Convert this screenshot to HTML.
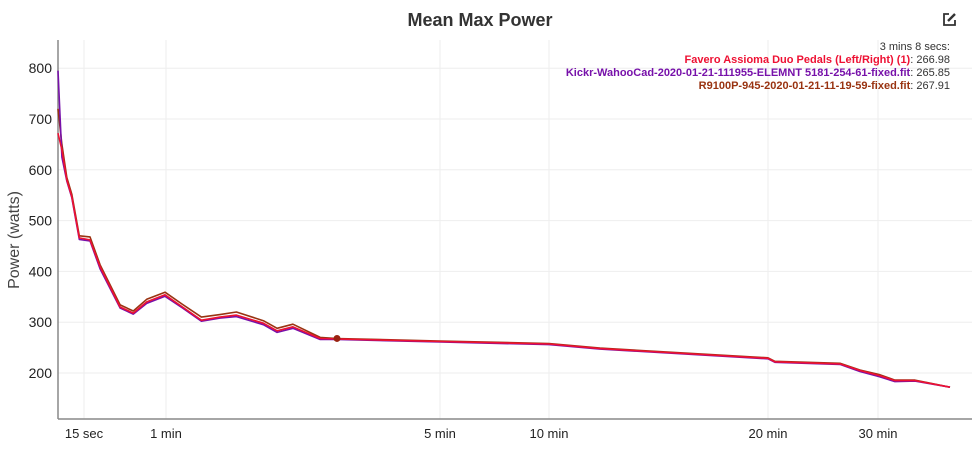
<!DOCTYPE html>
<html><head><meta charset="utf-8"><style>
body{margin:0;background:#fff;font-family:"Liberation Sans",sans-serif}
svg{display:block}
</style></head><body>
<svg width="972" height="474">
<text x="480" y="26" text-anchor="middle" font-size="18" font-weight="bold" fill="#333">Mean Max Power</text>
<g transform="translate(942,13)" fill="none" stroke="#333" stroke-width="1.8">
<path d="M7 1H2V12H13V7"/><path d="M6 8L13 1" stroke-width="2.4"/>
</g>
<g id="grid"></g>
<g id="axes"></g>
<g id="series"></g>
<text transform="translate(19,240) rotate(-90)" text-anchor="middle" font-size="16" fill="#444">Power (watts)</text>
<g font-size="11" text-anchor="end">
<text x="950" y="50" fill="#333">3 mins 8 secs:</text>
<text x="950" y="63"><tspan fill="#ee1133" font-weight="bold">Favero Assioma Duo Pedals (Left/Right) (1)</tspan><tspan fill="#333">: 266.98</tspan></text>
<text x="950" y="76"><tspan fill="#7711aa" font-weight="bold">Kickr-WahooCad-2020-01-21-111955-ELEMNT 5181-254-61-fixed.fit</tspan><tspan fill="#333">: 265.85</tspan></text>
<text x="950" y="89"><tspan fill="#993311" font-weight="bold">R9100P-945-2020-01-21-11-19-59-fixed.fit</tspan><tspan fill="#333">: 267.91</tspan></text>
</g>
</svg>
<script>
const durations=[1,1.5,2.5,4.2,9.2,16.6,19.7,27.6,34.5,43.3,59,67,76,86,96,115,126,140,168,188,300,600,705,1200,1231,1565,1684,1808,1926,2087,2400];
const favero=[672,639,580,547,466,462,409,330,318,340,354,330,304,310,314,298,283,291,268,267,262,257,248,229,222,218,205,195,185,185,172];
const kickr=[795,625,578,545,463,460,405,328,316,337,351,328,302,308,311,295,280,288,266,266,261,256,247,228,221,217,203,193,183,184,172];
const r9100=[720,650,585,552,470,468,413,334,322,345,359,335,310,315,320,303,288,296,270,268,263,258,249,230,223,219,206,197,186,186,172];
const yTicks=[200,300,400,500,600,700,800];
const xTickSecs=[15,60,300,600,1200,1800];
const xTickLabels=["15 sec","1 min","5 min","10 min","20 min","30 min"];
const markerSec=188;
const anchS=[1,15,60,188,300,600,1200,1800,2400], anchX=[58,84,166,337,440,549,768,878,950];
function xs(s){for(let i=0;i<anchS.length-1;i++){if(s<=anchS[i+1]||i==anchS.length-2){const t=Math.log(s/anchS[i])/Math.log(anchS[i+1]/anchS[i]);return anchX[i]+t*(anchX[i+1]-anchX[i]);}}}
function ys(v){return 373-(v-200)*0.508;}
const NS="http://www.w3.org/2000/svg";
function mk(tag,attrs,parent){const e=document.createElementNS(NS,tag);for(const k in attrs)e.setAttribute(k,attrs[k]);parent.appendChild(e);return e;}
const grid=document.getElementById('grid'),axes=document.getElementById('axes'),ser=document.getElementById('series');
yTicks.forEach(v=>{
 const l=mk('line',{x1:58,x2:972,y1:ys(v),y2:ys(v),stroke:'#eee'},grid);
 
 
 const t=mk('text',{x:52,y:ys(v)+5,'text-anchor':'end','font-size':14,fill:'#222'},axes);
 t.textContent=v;
 
 
});
xTickSecs.forEach((s,i)=>{
 const l=mk('line',{x1:xs(s),x2:xs(s),y1:40,y2:419,stroke:'#eee'},grid);
 
 
 const t=mk('text',{x:xs(s),y:438,'text-anchor':'middle','font-size':13,fill:'#222'},axes);
 t.textContent=xTickLabels[i];
 
 
});
const xa=mk('line',{x1:58,x2:972,y1:419,y2:419,stroke:'#888','stroke-width':1.5},axes);


const ya=mk('line',{x1:58,x2:58,y1:40,y2:419,stroke:'#888','stroke-width':1.5},axes);


function line(vals,color,name){
 const d=durations.map((s,i)=>(i?'L':'M')+xs(s).toFixed(1)+' '+ys(vals[i]).toFixed(1)).join(' ');
 const p=mk('path',{d:d,fill:'none',stroke:color,'stroke-width':1.6,'stroke-linejoin':'round'},ser);
 
 
}
line(r9100,'#993311','line-r9100p');
line(kickr,'#7711aa','line-kickr');
line(favero,'#ee1133','line-favero');
const mi=durations.indexOf(markerSec);
const m=mk('circle',{cx:xs(markerSec),cy:ys(r9100[mi]),r:3.5,fill:'#992211'},ser);


</script>
</body></html>
